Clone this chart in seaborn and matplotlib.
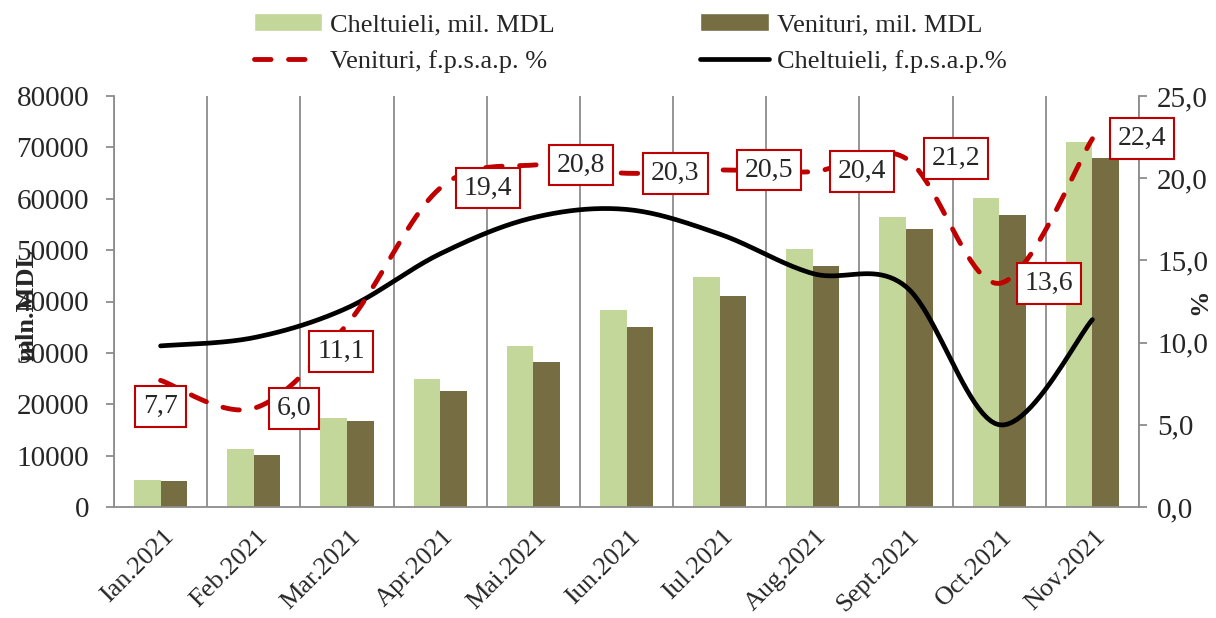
import numpy as np
import pandas as pd
import matplotlib
matplotlib.use("Agg")
import matplotlib.pyplot as plt
import matplotlib.transforms as mtrans
import seaborn as sns
from matplotlib.patches import Patch
from matplotlib.lines import Line2D
from matplotlib.ticker import FuncFormatter, MultipleLocator

# --- Data ---
months = ["Ian.2021", "Feb.2021", "Mar.2021", "Apr.2021", "Mai.2021", "Iun.2021",
          "Iul.2021", "Aug.2021", "Sept.2021", "Oct.2021", "Nov.2021"]
cheltuieli = [5300, 11200, 17300, 24900, 31300, 38400, 44800, 50200, 56500, 60100, 71000]
venituri = [5000, 10200, 16700, 22500, 28200, 35000, 41000, 46900, 54100, 56800, 67900]
venituri_pct = [7.7, 6.0, 11.1, 19.4, 20.8, 20.3, 20.5, 20.4, 21.2, 13.6, 22.4]
cheltuieli_pct = [9.8, 10.3, 12.1, 15.4, 17.6, 18.1, 16.6, 14.2, 13.4, 5.0, 11.4]
venituri_lbl = ["7,7", "6,0", "11,1", "19,4", "20,8", "20,3", "20,5", "20,4", "21,2", "13,6", "22,4"]

# label offsets in pixels (manual placement as in the original)
lbl_offsets = [(0, -26), (40, 0), (-6, -27), (48, 0), (48, 0), (49, 0),
               (49, 0), (49, 0), (50, 0), (50, 0), (50, 0)]

c_light = "#C4D79B"
c_dark = "#766D43"
c_red = "#C00000"
c_grid = "#8C8C8C"

sns.set_style("white")
plt.rcParams["font.family"] = ["Liberation Serif", "DejaVu Serif"]


def smooth(y, n=24):
    # Excel-like smoothed line (cubic bezier through the points)
    pts = np.column_stack([np.arange(len(y)), np.asarray(y, float)])
    out = []
    t = np.linspace(0, 1, n)[:, None]
    for i in range(len(y) - 1):
        p0 = pts[max(i - 1, 0)]
        p1 = pts[i]
        p2 = pts[i + 1]
        p3 = pts[min(i + 2, len(y) - 1)]
        c1 = p1 + (p2 - p0) / 6
        c2 = p2 - (p3 - p1) / 6
        seg = (1 - t) ** 3 * p1 + 3 * (1 - t) ** 2 * t * c1 + 3 * (1 - t) * t ** 2 * c2 + t ** 3 * p2
        out.append(seg if i == 0 else seg[1:])
    return np.vstack(out)


df = pd.DataFrame({
    "luna": months * 2,
    "valoare": cheltuieli + venituri,
    "serie": ["Cheltuieli, mil. MDL"] * len(months) + ["Venituri, mil. MDL"] * len(months),
})

fig = plt.figure(figsize=(12.16, 6.18), dpi=100)
ax = fig.add_axes([114 / 1216, 1 - 507 / 618, (1139 - 114) / 1216, (507 - 96) / 618])

sns.barplot(data=df, x="luna", y="valoare", hue="serie",
            palette=[c_light, c_dark], width=0.57, gap=0, ax=ax,
            legend=False, saturation=1, edgecolor="none")

ax.set_ylim(0, 80000)
ax.set_xlim(-0.5, len(months) - 0.5)
ax.yaxis.set_major_locator(MultipleLocator(10000))
ax.set_xlabel("")
ax.set_ylabel("")

# category boundaries as vertical grid
ax.set_xticks(np.arange(-0.5, len(months), 1), minor=True)
ax.grid(which="minor", axis="x", color=c_grid, linewidth=1.3)
ax.grid(which="major", visible=False)
ax.tick_params(axis="x", which="major", length=0, pad=19)
ax.tick_params(axis="x", which="minor", length=6, width=1.3, color=c_grid, direction="out")
ax.tick_params(axis="y", length=6, width=1.3, color=c_grid, direction="out", labelsize=21, pad=12)
ax.set_xticks(range(len(months)))
ax.set_xticklabels(months, rotation=45, ha="right", va="center",
                   rotation_mode="anchor", fontsize=19)
shift = mtrans.ScaledTranslation(10 / 100, 0, fig.dpi_scale_trans)
for lab in ax.get_xticklabels():
    lab.set_transform(lab.get_transform() + shift)
for s in ["left", "bottom"]:
    ax.spines[s].set_color(c_grid)
    ax.spines[s].set_linewidth(1.3)
ax.spines["top"].set_visible(False)
ax.spines["right"].set_visible(False)

# secondary axis
ax2 = ax.twinx()
ax2.set_ylim(0, 25)
ax2.yaxis.set_major_locator(MultipleLocator(5))
ax2.yaxis.set_major_formatter(FuncFormatter(lambda v, p: f"{v:.1f}".replace(".", ",")))
ax2.tick_params(axis="y", length=6, width=1.3, color=c_grid, direction="out", labelsize=21, pad=7)
for s in ["left", "top", "bottom"]:
    ax2.spines[s].set_visible(False)
ax2.spines["right"].set_color(c_grid)
ax2.spines["right"].set_linewidth(1.3)

sv = smooth(venituri_pct)
sc = smooth(cheltuieli_pct)
ax2.plot(sc[:, 0], sc[:, 1], color="black", linewidth=3.4, solid_capstyle="round", zorder=3)
ax2.plot(sv[:, 0], sv[:, 1], color=c_red, linewidth=3.5, dashes=(3.4, 3.6),
         dash_capstyle="round", zorder=4)

for i, (v, lab) in enumerate(zip(venituri_pct, venituri_lbl)):
    ax2.annotate(lab, (i, v), xytext=lbl_offsets[i], textcoords="offset pixels",
                 ha="center", va="center", fontsize=20, zorder=5,
                 bbox=dict(boxstyle="square,pad=0.28", fc="white", ec=c_red, lw=1.5))

# axis titles
fig.text(27 / 1216, 1 - 305 / 618, "mln.MDL", rotation=90, ha="center", va="center",
         fontsize=19, fontweight="bold")
fig.text(1200 / 1216, 1 - 302 / 618, "%", rotation=90, ha="center", va="center",
         fontsize=19, fontweight="bold")

# legend (row-wise order)
handles = [
    Patch(facecolor=c_light, label="Cheltuieli, mil. MDL"),
    Line2D([], [], color=c_red, lw=3.5, dashes=(3.4, 3.6), dash_capstyle="round",
           label="Venituri, f.p.s.a.p. %"),
    Patch(facecolor=c_dark, label="Venituri, mil. MDL"),
    Line2D([], [], color="black", lw=3.4, label="Cheltuieli, f.p.s.a.p.%"),
]
fig.legend(handles=handles, ncol=2, loc="center", bbox_to_anchor=(630 / 1216, 1 - 43 / 618),
           frameon=False, fontsize=19, handlelength=2.6, handleheight=0.65,
           columnspacing=5.5, labelspacing=0.5, handletextpad=0.3)

fig.savefig("out.png", dpi=100)
